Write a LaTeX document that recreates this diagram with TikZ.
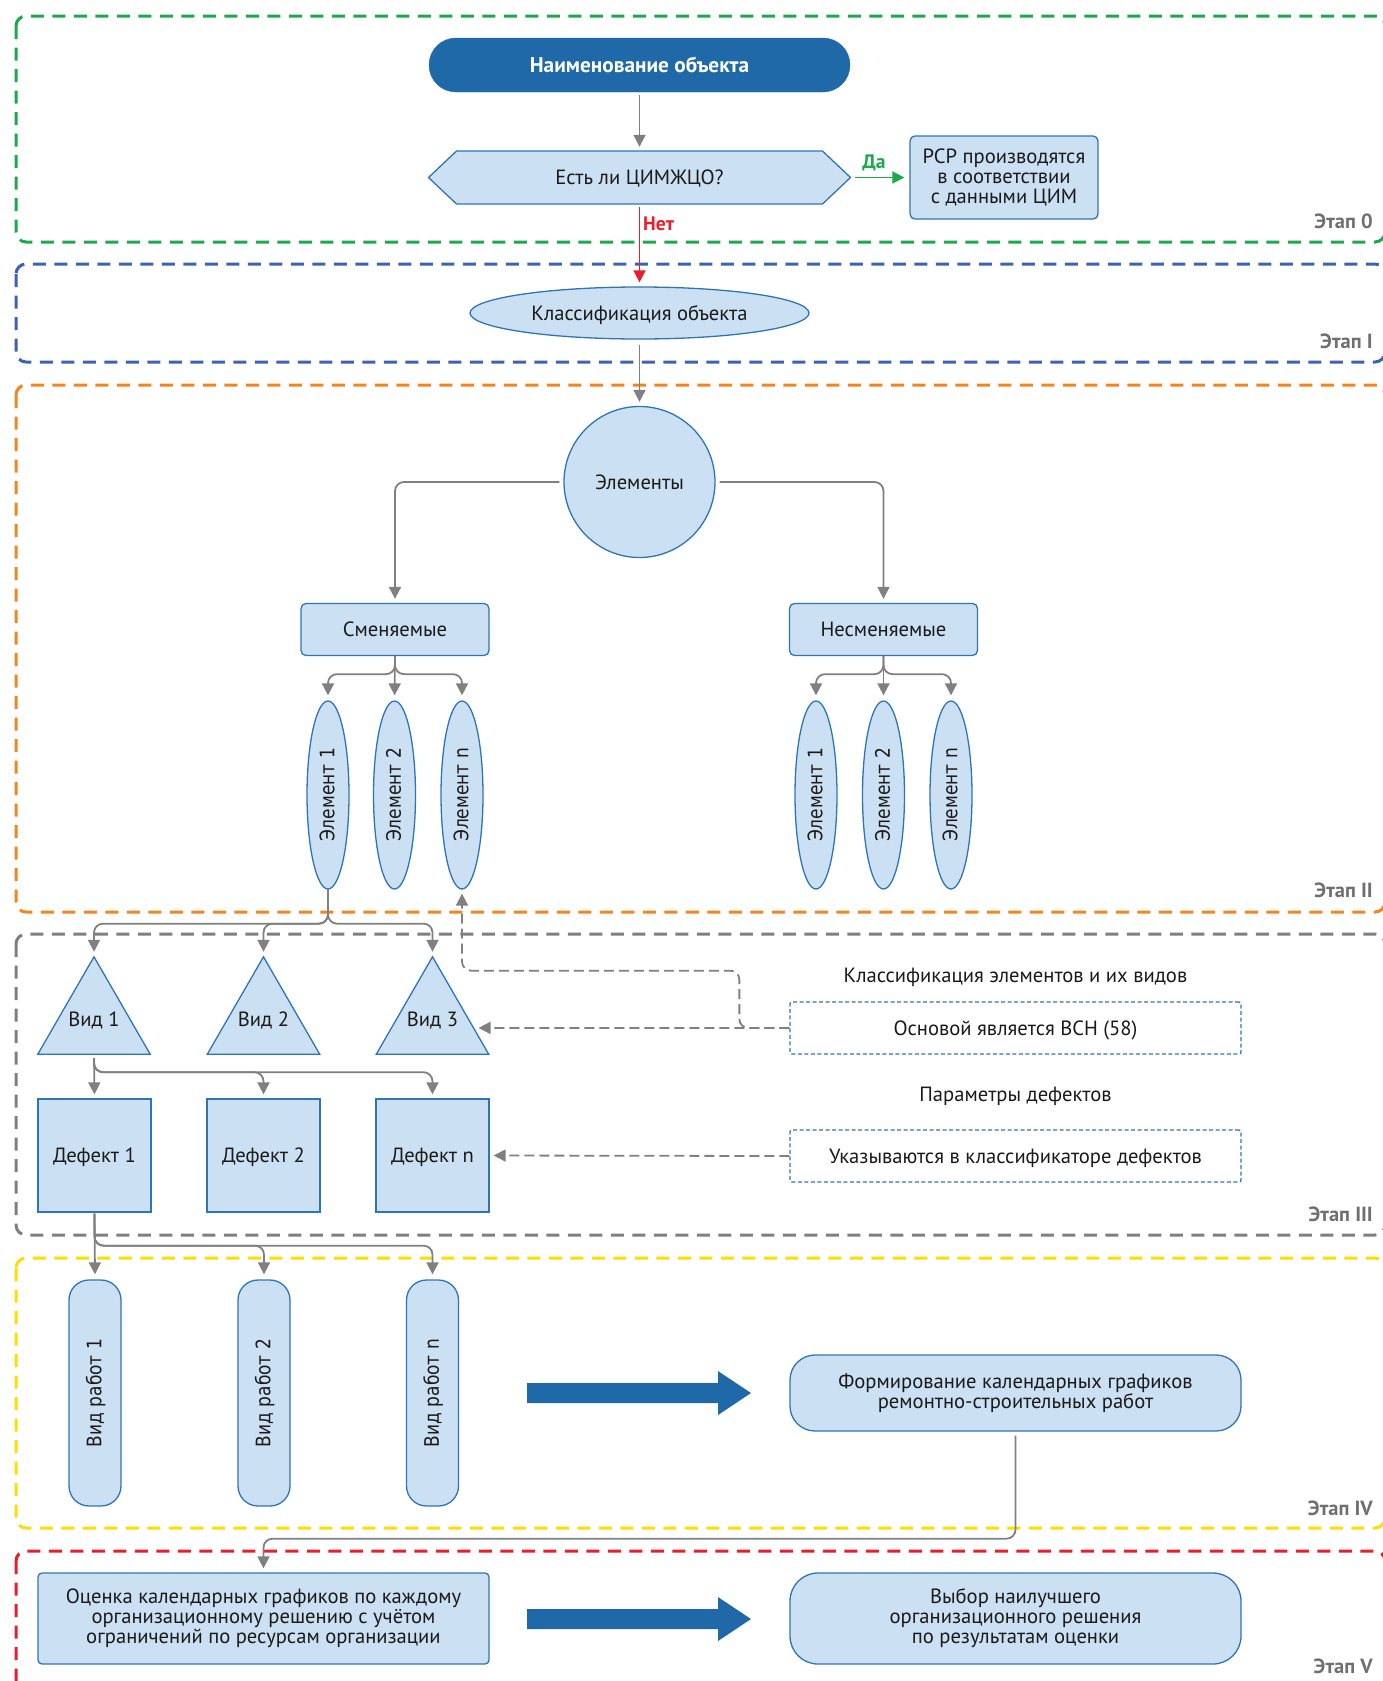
\documentclass[tikz,border=0pt]{standalone}
\usepackage{fontspec}
\setmainfont{PT Sans}
\newfontfamily\rotfont{DejaVu Sans}
% rotated labels: condensed DejaVu, caps centred on the node axis
\newcommand\rtext[1]{\rotatebox{90}{\scalebox{0.85}[1]{\rotfont\fontsize{20}{22}\selectfont\rule[-2pt]{0pt}{16.6pt}\smash{#1}}}}
\usetikzlibrary{shapes.geometric,arrows.meta,calc}

\definecolor{nodefill}{HTML}{CCE0F3}
\definecolor{nodeline}{HTML}{2E75B6}
\definecolor{darkpill}{HTML}{1F69A8}
\definecolor{linegray}{HTML}{808080}
\definecolor{fgreen}{HTML}{1BA94C}
\definecolor{fblue}{HTML}{3D62B3}
\definecolor{forange}{HTML}{F5841F}
\definecolor{fgray}{HTML}{7F7F7F}
\definecolor{fyellow}{HTML}{FFDD00}
\definecolor{fred}{HTML}{E91E2A}
\definecolor{stagegray}{HTML}{6F6F6F}
\definecolor{txt}{HTML}{1A1A1A}

\tikzset{
  frame/.style={line width=3pt, dash pattern=on 13pt off 8.5pt, rounded corners=10pt},
  oneline/.style={text height=16.5pt, text depth=2pt},
  stagelbl/.style={anchor=east, inner sep=0pt, text=stagegray, text height=16pt, text depth=2pt,
    font=\fontsize{20.5}{20}\selectfont\bfseries},
  txtfont/.style={font=\fontsize{20.6}{20}\selectfont, text=txt},
  box/.style={draw=nodeline, fill=nodefill, line width=1.3pt, inner sep=0pt, align=center, txtfont},
  plain/.style={inner sep=0pt, align=center, txtfont, oneline},
  shapefill/.style={draw=nodeline, fill=nodefill, line width=1.3pt},
  pill/.style={fill=darkpill, draw=darkpill, rounded corners=27pt, minimum width=421pt, minimum height=54pt,
    inner sep=0pt, text=white, oneline, font=\fontsize{21.3}{20}\selectfont\bfseries},
  dashbox/.style={draw=nodeline, line width=1.3pt, dash pattern=on 4pt off 2.5pt, rounded corners=2pt,
    minimum width=451pt, minimum height=52pt, inner sep=0pt, txtfont, oneline},
  vellipse/.style={box, ellipse, minimum width=42pt, minimum height=188pt},
  workbox/.style={box, rounded corners=20pt, minimum width=52pt, minimum height=226pt},
  defbox/.style={box, oneline, minimum width=113pt, minimum height=113pt},
  link/.style={draw=linegray, line width=1.8pt, rounded corners=9pt, -{Triangle[width=12pt,length=12pt]}},
  dlink/.style={link, dash pattern=on 10pt off 5pt},
  yesno/.style={inner sep=0pt, text height=14pt, text depth=2pt, font=\fontsize{19.5}{20}\selectfont\bfseries}
}

\begin{document}
\begin{tikzpicture}[x=1pt,y=-1pt]
\useasboundingbox (0,0) rectangle (1382,1681);

% stage frames
\draw[frame, fgreen]  (16,16)   rectangle (1385,242);
\draw[frame, fblue]   (16,264)  rectangle (1385,362);
\draw[frame, forange] (16,385)  rectangle (1385,912);
\draw[frame, fgray]   (16,934)  rectangle (1385,1235);
\draw[frame, fyellow] (16,1258) rectangle (1385,1528);
\draw[frame, fred]    (16,1551) rectangle (1385,1700);

\node[stagelbl] (st0) at (1373,221)  {Этап 0};
\node[stagelbl] (st1) at (1373,341)  {Этап I};
\node[stagelbl] (st2) at (1373,890)  {Этап II};
\node[stagelbl] (st3) at (1373,1214) {Этап III};
\node[stagelbl] (st4) at (1373,1508) {Этап IV};
\node[stagelbl] (st5) at (1373,1666) {Этап V};

% stage 0
\node[pill] (name) at (639.5,65) {Наименование объекта};
\path[shapefill] (428.5,177.5) -- (456.5,151) -- (822.5,151) -- (850.5,177.5)
  -- (822.5,204) -- (456.5,204) -- cycle;
\node[plain, minimum width=422pt, minimum height=53pt] (hex) at (639.5,177.5) {Есть ли ЦИМЖЦО?};
\node[box, rounded corners=5pt, minimum width=188pt, minimum height=83pt] (rsr) at (1004,177.5)
  {РСР производятся\\в соответствии\\с данными ЦИМ};

% stage I
\node[box, oneline, ellipse, minimum width=339pt, minimum height=52pt] (klass) at (639.5,313) {Классификация объекта};

% stage II
\node[box, oneline, circle, minimum size=151pt] (circ) at (639.5,482) {Элементы};
\node[box, oneline, rounded corners=5pt, minimum width=188pt, minimum height=52pt] (smen) at (395,629.5) {Сменяемые};
\node[box, oneline, rounded corners=5pt, minimum width=188pt, minimum height=52pt] (nsmen) at (883.5,629.5) {Несменяемые};

\node[vellipse] (a1) at (328,795)   {\rtext{Элемент 1}};
\node[vellipse] (a2) at (394.5,795) {\rtext{Элемент 2}};
\node[vellipse] (an) at (462,795)   {\rtext{Элемент n}};
\node[vellipse] (b1e) at (816,795)   {\rtext{Элемент 1}};
\node[vellipse] (b2e) at (883.5,795) {\rtext{Элемент 2}};
\node[vellipse] (bne) at (951,795)   {\rtext{Элемент n}};

% stage III
\node[minimum width=112pt, minimum height=97pt, inner sep=0pt] (v1) at (94,1005.5) {};
\node[minimum width=112pt, minimum height=97pt, inner sep=0pt] (v2) at (263.5,1005.5) {};
\node[minimum width=112pt, minimum height=97pt, inner sep=0pt] (v3) at (432.5,1005.5) {};
\foreach \v in {v1,v2,v3}
  \path[shapefill] (\v.south west) -- (\v.north) -- (\v.south east) -- cycle;
\node[plain] (v1t) at (94,1019)    {Вид 1};
\node[plain] (v2t) at (263.5,1019) {Вид 2};
\node[plain] (v3t) at (432.5,1019) {Вид 3};

\node[defbox] (d1) at (94.5,1155.5)  {Дефект 1};
\node[defbox] (d2) at (263.5,1155.5) {Дефект 2};
\node[defbox] (dn) at (432.5,1155.5) {Дефект n};

\node[plain] (t1) at (1015.5,975) {Классификация элементов и их видов};
\node[dashbox] (bx1) at (1015.5,1028) {Основой является ВСН (58)};
\node[plain] (t2) at (1015.5,1094) {Параметры дефектов};
\node[dashbox] (bx2) at (1015.5,1156) {Указываются в классификаторе дефектов};

% stage IV
\node[workbox] (w1) at (95,1393)    {\rtext{Вид работ 1}};
\node[workbox] (w2) at (264,1393)   {\rtext{Вид работ 2}};
\node[workbox] (wn) at (432.5,1393) {\rtext{Вид работ n}};
\node[box, rounded corners=25pt, minimum width=451pt, minimum height=76pt] (formir) at (1015.5,1393)
  {Формирование календарных графиков\\ремонтно-строительных работ};
\fill[darkpill] (527,1383) -- (718,1383) -- (718,1371) -- (751,1393) -- (718,1415) -- (718,1403) -- (527,1403) -- cycle;

% stage V
\node[box, rounded corners=4pt, minimum width=451pt, minimum height=91pt] (ocen) at (263.5,1618.5)
  {Оценка календарных графиков по каждому\\организационному решению с учётом\\ограничений по ресурсам организации};
\node[box, rounded corners=28pt, minimum width=451pt, minimum height=91pt] (vybor) at (1015.5,1618.5)
  {Выбор наилучшего\\организационного решения\\по результатам оценки};
\fill[darkpill] (527,1609) -- (718,1609) -- (718,1597) -- (751,1619) -- (718,1641) -- (718,1629) -- (527,1629) -- cycle;

% connectors
\draw[link, shorten <=3pt, shorten >=4pt] (name) -- (hex);
\draw[link, draw=fgreen, shorten <=4pt, shorten >=5pt] (hex.east) -- (rsr.west);
\node[yesno, text=fgreen] (da) at (874,162) {Да};
\draw[link, draw=fred, shorten <=3pt, shorten >=4pt] (hex.south) -- (klass.north);
\node[yesno, text=fred, anchor=west] (net) at (643,224) {Нет};
\draw[link, shorten <=5pt, shorten >=4pt] (klass.south) -- (circ.north);
\draw[link, shorten <=4pt, shorten >=4pt] (circ.west) -| (smen.north);
\draw[link, shorten <=4pt, shorten >=4pt] (circ.east) -| (nsmen.north);

\coordinate (sj) at ($(smen.south)+(0,18)$);
\draw[link, shorten >=5pt] (smen.south) -- (sj) -| (a1.north);
\draw[link, shorten >=5pt] (smen.south) -- (a2.north);
\draw[link, shorten >=5pt] (smen.south) -- (sj) -| (an.north);
\coordinate (nj) at ($(nsmen.south)+(0,18)$);
\draw[link, shorten >=5pt] (nsmen.south) -- (nj) -| (b1e.north);
\draw[link, shorten >=5pt] (nsmen.south) -- (b2e.north);
\draw[link, shorten >=5pt] (nsmen.south) -- (nj) -| (bne.north);

\coordinate (ej) at ($(a1.south)+(0,34)$);
\draw[link, shorten >=5pt] (a1.south) -- (ej) -| (v1.north);
\draw[link, shorten >=5pt] (a1.south) -- (ej) -| (v2.north);
\draw[link, shorten >=5pt] (a1.south) -- (ej) -| (v3.north);

\coordinate (vj) at ($(v1.south)+(0,18)$);
\draw[link, shorten <=4pt, shorten >=4pt] (v1.south) -- (d1.north);
\draw[link, shorten <=4pt, shorten >=4pt] (v1.south) -- (vj) -| (d2.north);
\draw[link, shorten <=4pt, shorten >=4pt] (v1.south) -- (vj) -| (dn.north);

\coordinate (dj) at ($(d1.south)+(0,33)$);
\draw[link, shorten <=1pt, shorten >=5pt] (d1.south) -- (w1.north);
\draw[link, shorten <=1pt, shorten >=5pt] (d1.south) -- (dj) -| (w2.north);
\draw[link, shorten <=1pt, shorten >=5pt] (d1.south) -- (dj) -| (wn.north);

\coordinate (fj) at ($(formir.south)+(0,107)$);
\draw[link, shorten <=4pt, shorten >=4pt] (formir.south) -- (fj) -| (ocen.north);

\coordinate (v3r) at ($(v3.north)!0.73!(v3.south east)$);
\draw[dlink, shorten >=5pt] (bx1.west) -- (v3r);
\draw[dlink, shorten >=4pt] (bx1.west) -- ++(-50,0) |- ($(an.south)+(0,81)$) -- (an.south);
\draw[dlink, shorten >=4pt] (bx2.west) -- (dn.east);
\end{tikzpicture}
\end{document}
